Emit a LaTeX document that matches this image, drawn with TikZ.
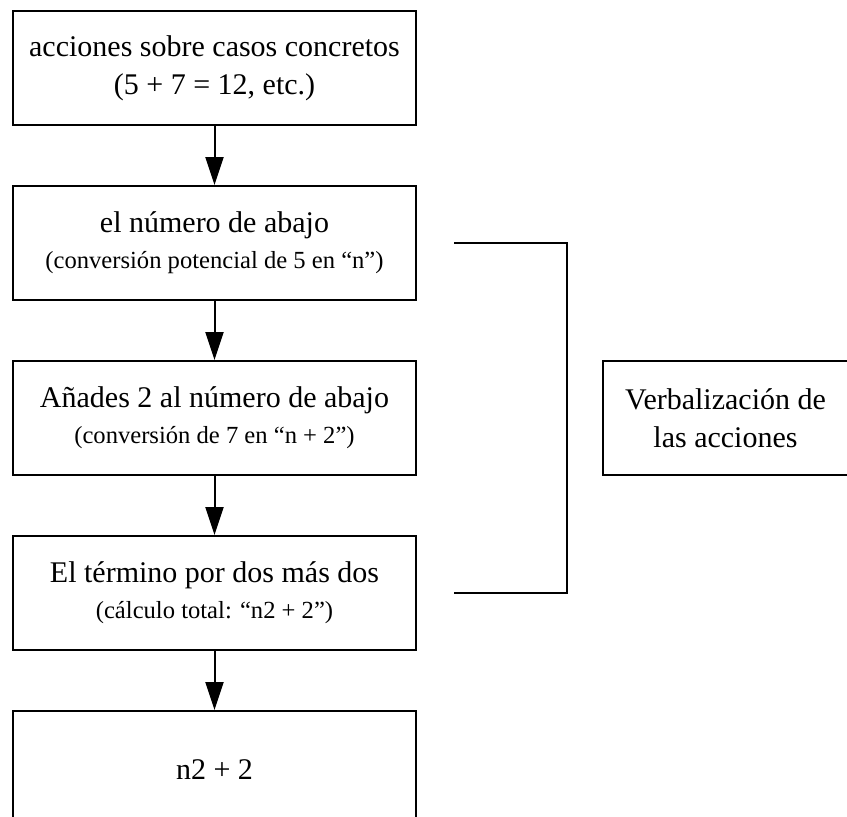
\documentclass[tikz,border=0pt]{standalone}
\usepackage{fontspec}
\setmainfont{Liberation Serif}
\usetikzlibrary{arrows.meta,positioning}

\newcommand{\nota}[1]{{\fontsize{12.3}{15}\selectfont #1}}

\begin{document}
\begin{tikzpicture}[>={Triangle[length=14pt,width=9pt]}, line width=1pt, node distance=29.5pt,
	paso/.style={draw, rectangle, minimum width=201.5pt, minimum height=57pt, inner sep=2pt,
		align=center, font=\fontsize{15}{19}\selectfont}]
	\useasboundingbox (0,0) rectangle (423.5pt,-408pt);

	% Nodes {c1, c2, c3, c4, c5, verbal}
	\node [paso] 					(c1) at (107.25pt,-34pt)	{acciones sobre casos concretos\\(5 + 7 = 12, etc.)};
	\node [paso] 					(c2) [below=of c1]		{el número de abajo\\[-1pt]\nota{(conversión potencial de 5 en “n”)}};
	\node [paso] 					(c3) [below=of c2]		{Añades 2 al número de abajo\\[-1pt]\nota{(conversión de 7 en “n + 2”)}};
	\node [paso] 					(c4) [below=of c3]		{El término por dos más dos\\[-1pt]\nota{(cálculo total: “n2 + 2”)}};
	\node [paso, minimum height=59pt]	(c5) [below=of c4]		{n2 + 2};
	\node [paso, minimum width=122.5pt]	(verbal) [right=92.5pt of c3]	{Verbalización de\\las acciones};

	% Bracket ends
	\coordinate [right=18.5pt of c2] (v2);
	\coordinate [right=18.5pt of c4] (v4);

	% Paths
	\path [->] 	(c1) edge (c2);
	\path [->] 	(c2) edge (c3);
	\path [->] 	(c3) edge (c4);
	\path [->] 	(c4) edge (c5);
	\draw 		(v2) -- ++(56.5pt,0) |- (v4);

\end{tikzpicture}
\end{document}
